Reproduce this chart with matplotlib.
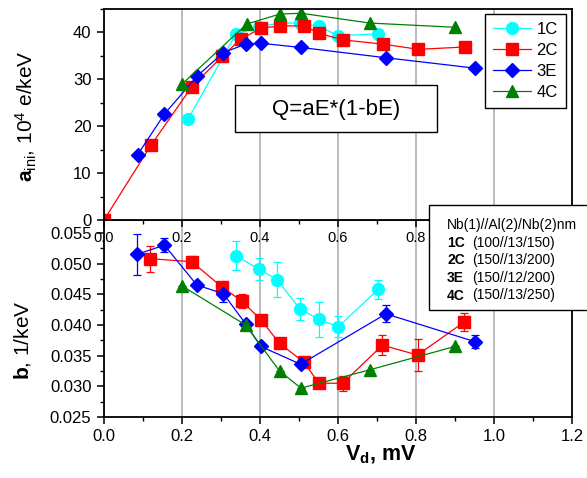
import matplotlib
matplotlib.use('Agg')
import matplotlib.pyplot as plt
import matplotlib.patches as patches
from matplotlib.ticker import MultipleLocator, FormatStrFormatter

plt.rcParams['font.family'] = 'Liberation Sans'
plt.rcParams['mathtext.fontset'] = 'custom'
plt.rcParams['mathtext.rm'] = 'Liberation Sans'
plt.rcParams['mathtext.bf'] = 'Liberation Sans:bold'
plt.rcParams['mathtext.default'] = 'regular'

samples = ['1C', '2C', '3E', '4C']

# top panel: a_ini (10^4 e/keV) vs Vd (mV)
vd_a_1c = [0.216, 0.338, 0.398, 0.450, 0.503, 0.551, 0.601, 0.703]
a_1c = [21.6, 39.6, 41.2, 42.0, 42.0, 41.3, 39.3, 39.7]
vd_a_2c = [0.0, 0.120, 0.225, 0.303, 0.351, 0.403, 0.450, 0.513, 0.551, 0.614, 0.716, 0.806, 0.926]
a_2c = [0.0, 15.9, 28.4, 34.9, 38.6, 40.9, 41.4, 41.4, 39.8, 38.4, 37.5, 36.4, 36.9]
vd_a_3e = [0.086, 0.155, 0.239, 0.306, 0.363, 0.402, 0.504, 0.723, 0.950]
a_3e = [13.9, 22.6, 30.7, 35.7, 37.5, 37.7, 36.8, 34.6, 32.4]
vd_a_4c = [0.199, 0.366, 0.450, 0.505, 0.682, 0.900]
a_4c = [28.9, 41.8, 43.9, 44.1, 42.0, 41.1]

# bottom panel: b (1/keV) vs Vd (mV), with errors
vd_b_1c = [0.338, 0.397, 0.443, 0.503, 0.551, 0.601, 0.703]
b_1c = [0.0513, 0.0491, 0.0474, 0.0426, 0.0409, 0.0397, 0.0458]
err_1c = [0.0023, 0.0018, 0.0028, 0.0018, 0.0029, 0.0017, 0.0016]
vd_b_2c = [0.118, 0.225, 0.302, 0.353, 0.403, 0.450, 0.513, 0.551, 0.612, 0.714, 0.804, 0.924]
b_2c = [0.0508, 0.0503, 0.0462, 0.0439, 0.0408, 0.0370, 0.0339, 0.0305, 0.0305, 0.0367, 0.0351, 0.0405]
err_2c = [0.0021, 0.0010, 0.0004, 0.0012, 0.0, 0.0, 0.0, 0.0, 0.0012, 0.0016, 0.0026, 0.0015]
vd_b_3e = [0.084, 0.155, 0.238, 0.306, 0.363, 0.402, 0.504, 0.723, 0.950]
b_3e = [0.0515, 0.0530, 0.0465, 0.0451, 0.0402, 0.0365, 0.0336, 0.0418, 0.0373]
err_3e = [0.0033, 0.0011, 0.0003, 0.0013, 0.0005, 0.0, 0.0005, 0.0014, 0.0011]
vd_b_4c = [0.199, 0.363, 0.450, 0.505, 0.682, 0.900]
b_4c = [0.0464, 0.0400, 0.0325, 0.0297, 0.0327, 0.0365]
err_4c = [0, 0, 0, 0, 0, 0]

structures = ['(100//13/150)', '(150//13/200)', '(150//12/200)', '(150//13/250)']

top_data = [(vd_a_1c, a_1c), (vd_a_2c, a_2c), (vd_a_3e, a_3e), (vd_a_4c, a_4c)]
bot_data = [(vd_b_1c, b_1c, err_1c), (vd_b_2c, b_2c, err_2c),
            (vd_b_3e, b_3e, err_3e), (vd_b_4c, b_4c, err_4c)]

colors = ['#00ffff', '#ff0000', '#0000ff', '#008000']
markers = ['o', 's', 'D', '^']
msizes = [8.5, 8, 7, 8.5]

W, H = 587, 478
fig = plt.figure(figsize=(W / 100, H / 100), dpi=100)
left, right = 104 / W, 572 / W
ax_b = fig.add_axes([left, 1 - 417 / H, right - left, (417 - 220) / H])
ax_a = fig.add_axes([left, 1 - 220 / H, right - left, (220 - 9) / H])

grid_kw = dict(color='#a8a8a8', lw=1.1)

for ax in (ax_a, ax_b):
    ax.set_xlim(0, 1.2)
    ax.xaxis.set_major_locator(MultipleLocator(0.2))
    ax.xaxis.set_minor_locator(MultipleLocator(0.1))
    ax.xaxis.set_major_formatter(FormatStrFormatter('%.1f'))
    ax.grid(axis='x', which='major', **grid_kw)
    ax.set_axisbelow(True)
    for sp in ax.spines.values():
        sp.set_linewidth(1.3)
    ax.tick_params(which='major', length=5, width=1.1, direction='out')
    ax.tick_params(which='minor', length=3, width=1.0, direction='out')
    ax.tick_params(axis='y', labelsize=12, pad=4)

# top panel
for (vd, a), c, m, ms, name in zip(top_data, colors, markers, msizes, samples):
    ax_a.plot(vd, a, color=c, lw=0.9, marker=m, ms=ms, mec=c, mfc=c, label=name)
ax_a.set_ylim(0, 45)
ax_a.yaxis.set_major_locator(MultipleLocator(10))
ax_a.yaxis.set_minor_locator(MultipleLocator(5))
# labels 1.0 and 1.2 sit under the sample box
ax_a.xaxis.set_major_formatter(lambda v, pos: '%.1f' % v if v < 0.9 else '')
ax_a.tick_params(axis='x', labelsize=10.5, pad=3)
ax_a.set_ylabel(r'$\mathbf{a}_{ini}$, 10$^4$ e/keV', fontsize=15, va='center')
ax_a.yaxis.set_label_coords(-0.165, 0.49)
ax_a.legend(loc='upper right', bbox_to_anchor=(566 / W, 1 - 14 / H),
            bbox_transform=fig.transFigure, borderaxespad=0, fancybox=False,
            edgecolor='black', framealpha=1, fontsize=12, handlelength=2.3,
            handletextpad=0.3, labelspacing=0.35, borderpad=0.5)
ax_a.get_legend().get_frame().set_linewidth(1.0)

# bottom panel
for (vd, b, e), c, m, ms in zip(bot_data, colors, markers, msizes):
    ax_b.errorbar(vd, b, yerr=e, color=c, lw=0.9, marker=m, ms=ms, mec=c, mfc=c,
                  elinewidth=0.9, capsize=3, capthick=0.9)
ax_b.set_ylim(0.025, 0.0571)
ax_b.yaxis.set_major_locator(MultipleLocator(0.005))
ax_b.yaxis.set_minor_locator(MultipleLocator(0.0025))
ax_b.yaxis.set_major_formatter(FormatStrFormatter('%.3f'))
ax_b.tick_params(axis='x', labelsize=12)
ax_b.set_ylabel(r'$\mathbf{b}$, 1/keV', fontsize=15, va='center')
ax_b.yaxis.set_label_coords(-0.175, 0.39)
ax_b.set_xlabel(r'$\mathbf{V_d}$, mV', fontsize=15.5, fontweight='bold')
ax_b.xaxis.set_label_coords(0.592, -0.135)

# formula box
fig.patches.append(patches.Rectangle((235 / W, 1 - 132 / H), 202 / W, 47 / H,
                                     transform=fig.transFigure, fc='white',
                                     ec='black', lw=1.0))
fig.text(336 / W, 1 - 109 / H, 'Q=aE*(1-bE)', ha='center', va='center', fontsize=16)

# sample description box
fig.patches.append(patches.Rectangle((429 / W, 1 - 310 / H), 200 / W, 105 / H,
                                     transform=fig.transFigure, fc='white',
                                     ec='black', lw=1.0))
fig.text(447 / W, 1 - 225 / H, 'Nb(1)//Al(2)/Nb(2)nm', ha='left', va='center', fontsize=10)
for i, (name, st) in enumerate(zip(samples, structures)):
    y = 1 - (242.7 + i * 17.6) / H
    fig.text(447 / W, y, name, ha='left', va='center', fontsize=10, fontweight='bold')
    fig.text(472 / W, y, st, ha='left', va='center', fontsize=10)

fig.savefig('out.png', dpi=100)
